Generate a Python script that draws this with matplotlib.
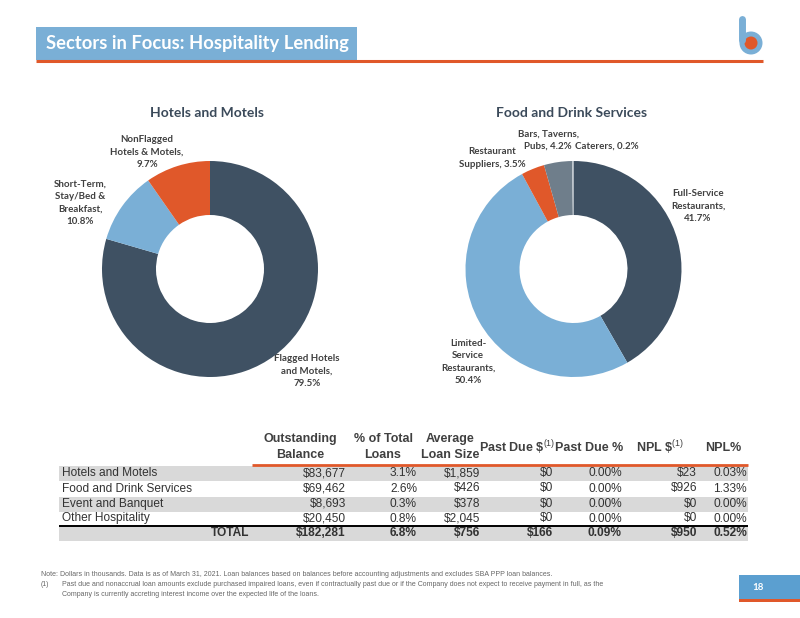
import matplotlib
matplotlib.use("Agg")
import matplotlib.pyplot as plt
from matplotlib.patches import Rectangle, Circle

# pie data
hotel_labels = ["Flagged Hotels\nand Motels,\n79.5%", "Short-Term,\nStay/Bed &\nBreakfast,\n10.8%",
                "NonFlagged\nHotels & Motels,\n9.7%"]
hotel_shares = [79.5, 10.8, 9.7]
food_labels = ["Full-Service\nRestaurants,\n41.7%", "Limited-\nService\nRestaurants,\n50.4%",
               "Restaurant\nSuppliers, 3.5%", "Bars, Taverns,\nPubs, 4.2%", "Caterers, 0.2%"]
food_shares = [41.7, 50.4, 3.5, 4.2, 0.2]

# table data
categories = ["Hotels and Motels", "Food and Drink Services", "Event and Banquet", "Other Hospitality"]
balance = [83677, 69462, 8693, 20450]
pct_total = [3.1, 2.6, 0.3, 0.8]
avg_size = [1859, 426, 378, 2045]
past_due = [0, 0, 0, 0]
past_due_pct = [0.00, 0.00, 0.00, 0.00]
npl = [23, 926, 0, 0]
npl_pct = [0.03, 1.33, 0.00, 0.00]
totals = [182281, 6.8, 756, 166, 0.09, 950, 0.52]

DARK = "#3f5163"
LBLUE = "#7aafd6"
ORANGE = "#e0582a"
GRAY = "#6f7e8b"
LGRAY = "#b9c2ca"
TXT = "#404040"
TITLE_C = "#3b4a5a"

plt.rcParams["mathtext.fontset"] = "custom"
plt.rcParams["mathtext.rm"] = "Liberation Sans"
plt.rcParams["mathtext.bf"] = "Liberation Sans:bold"

fig = plt.figure(figsize=(8, 6.18), dpi=100)
bg = fig.add_axes([0, 0, 1, 1])
bg.set_xlim(0, 800)
bg.set_ylim(618, 0)
bg.axis("off")

# header bar
bg.add_patch(Rectangle((36, 27), 321, 33, color=LBLUE, lw=0))
bg.plot([36, 763], [61, 61], color=ORANGE, lw=2.2, solid_capstyle="butt")
bg.text(46, 44, "Sectors in Focus: Hospitality Lending", color="white", fontsize=13.2,
        family="Lato", weight="bold", va="center", ha="left")
# logo
bg.plot([742, 742], [19, 40], color=LBLUE, lw=5, solid_capstyle="round")
bg.add_patch(Circle((751, 43), 11.5, color=LBLUE, lw=0))
bg.add_patch(Circle((751, 43), 6.5, color=ORANGE, lw=0))

# pie titles
bg.text(207, 113, "Hotels and Motels", ha="center", va="center", fontsize=10,
        family="Lato", weight="bold", color=TITLE_C)
bg.text(572, 113, "Food and Drink Services", ha="center", va="center", fontsize=10,
        family="Lato", weight="bold", color=TITLE_C)


def donut(center, shares, colors):
    cx, cy = center
    r = 108
    ax = fig.add_axes([(cx - r) / 800, (618 - cy - r) / 618, 2 * r / 800, 2 * r / 618])
    ax.pie(shares, colors=colors, startangle=90, counterclock=False,
           wedgeprops=dict(width=0.5, linewidth=0))
    ax.set_xlim(-1, 1)
    ax.set_ylim(-1, 1)
    ax.set_aspect("auto")
    ax.axis("off")


donut((210, 269), hotel_shares, [DARK, LBLUE, ORANGE])
donut((573.5, 269), food_shares, [DARK, LBLUE, ORANGE, GRAY, LGRAY])

hotel_pos = [(307, 371), (80, 203), (147, 152)]
food_pos = [(698, 206), (468, 362), (492, 158), (548, 140), (607, 146)]
lab_kw = dict(ha="center", va="center", fontsize=7, family="Lato", weight="bold",
              color=TXT, linespacing=1.5)
for lab, (x, y) in zip(hotel_labels, hotel_pos):
    bg.text(x, y, lab, **lab_kw)
for lab, (x, y) in zip(food_labels, food_pos):
    bg.text(x, y, lab, **lab_kw)

# table
tf = "Liberation Sans"
hdr_kw = dict(ha="center", va="center", fontsize=9, family=tf, weight="bold", color=TXT,
              linespacing=1.35)
bg.text(300, 447, "Outstanding\nBalance", **hdr_kw)
bg.text(383, 447, "% of Total\nLoans", **hdr_kw)
bg.text(450, 447, "Average\nLoan Size", **hdr_kw)
bg.text(517, 448, r"Past Due \$$^{(1)}$", **hdr_kw)
bg.text(589, 448, "Past Due %", **hdr_kw)
bg.text(660, 448, r"NPL \$$^{(1)}$", **hdr_kw)
bg.text(723, 448, "NPL%", **hdr_kw)
bg.plot([252, 748], [464.5, 464.5], color=ORANGE, lw=2, solid_capstyle="butt")

row_y = [473, 488.5, 504, 518.5]
total_y = 533.5
for y in [row_y[0], row_y[2], total_y]:
    bg.add_patch(Rectangle((59, y - 7.5), 689, 15, color="#d9d9d9", lw=0))
bg.plot([59, 748], [526, 526], color="black", lw=1.4, solid_capstyle="butt")

col_right = [346, 417, 480, 553, 622, 697, 747]
cell_kw = dict(ha="right", va="center", fontsize=8.6, family=tf, color="#333333")
for i, cat in enumerate(categories):
    y = row_y[i]
    bg.text(62, y, cat, ha="left", va="center", fontsize=8.6, family=tf, color="#333333")
    vals = [f"${balance[i]:,}", f"{pct_total[i]:.1f}%", f"${avg_size[i]:,}", f"${past_due[i]:,}",
            f"{past_due_pct[i]:.2f}%", f"${npl[i]:,}", f"{npl_pct[i]:.2f}%"]
    for x, v in zip(col_right, vals):
        bg.text(x, y, v.replace("$", r"\$"), **cell_kw)

bg.text(249, total_y, "TOTAL", ha="right", va="center", fontsize=8.6, family=tf, weight="bold",
        color="#333333")
tot_vals = [f"${totals[0]:,}", f"{totals[1]:.1f}%", f"${totals[2]:,}", f"${totals[3]:,}",
            f"{totals[4]:.2f}%", f"${totals[5]:,}", f"{totals[6]:.2f}%"]
for x, v in zip(col_right, tot_vals):
    bg.text(x, total_y, v.replace("$", r"\$"), ha="right", va="center", fontsize=8.6, family=tf,
            weight="bold", color="#333333")

# footnotes
fn_kw = dict(ha="left", va="center", fontsize=5, family=tf, color="#666666")
bg.text(41, 575, "Note: Dollars in thousands. Data is as of March 31, 2021. Loan balances based on "
        "balances before accounting adjustments and excludes SBA PPP loan balances.", **fn_kw)
bg.text(41, 585, "(1)", **fn_kw)
bg.text(62, 585, "Past due and nonaccrual loan amounts exclude purchased impaired loans, even if "
        "contractually past due or if the Company does not expect to receive payment in full, as the",
        **fn_kw)
bg.text(62, 594, "Company is currently accreting interest income over the expected life of the loans.",
        **fn_kw)

# page number
bg.add_patch(Rectangle((739, 575), 61, 24, color="#5b9fd0", lw=0))
bg.add_patch(Rectangle((739, 599), 61, 3, color=ORANGE, lw=0))
bg.text(758, 588, "18", ha="center", va="center", fontsize=7, family="Lato", weight="bold",
        color="white")

fig.savefig("out.png", dpi=100)
